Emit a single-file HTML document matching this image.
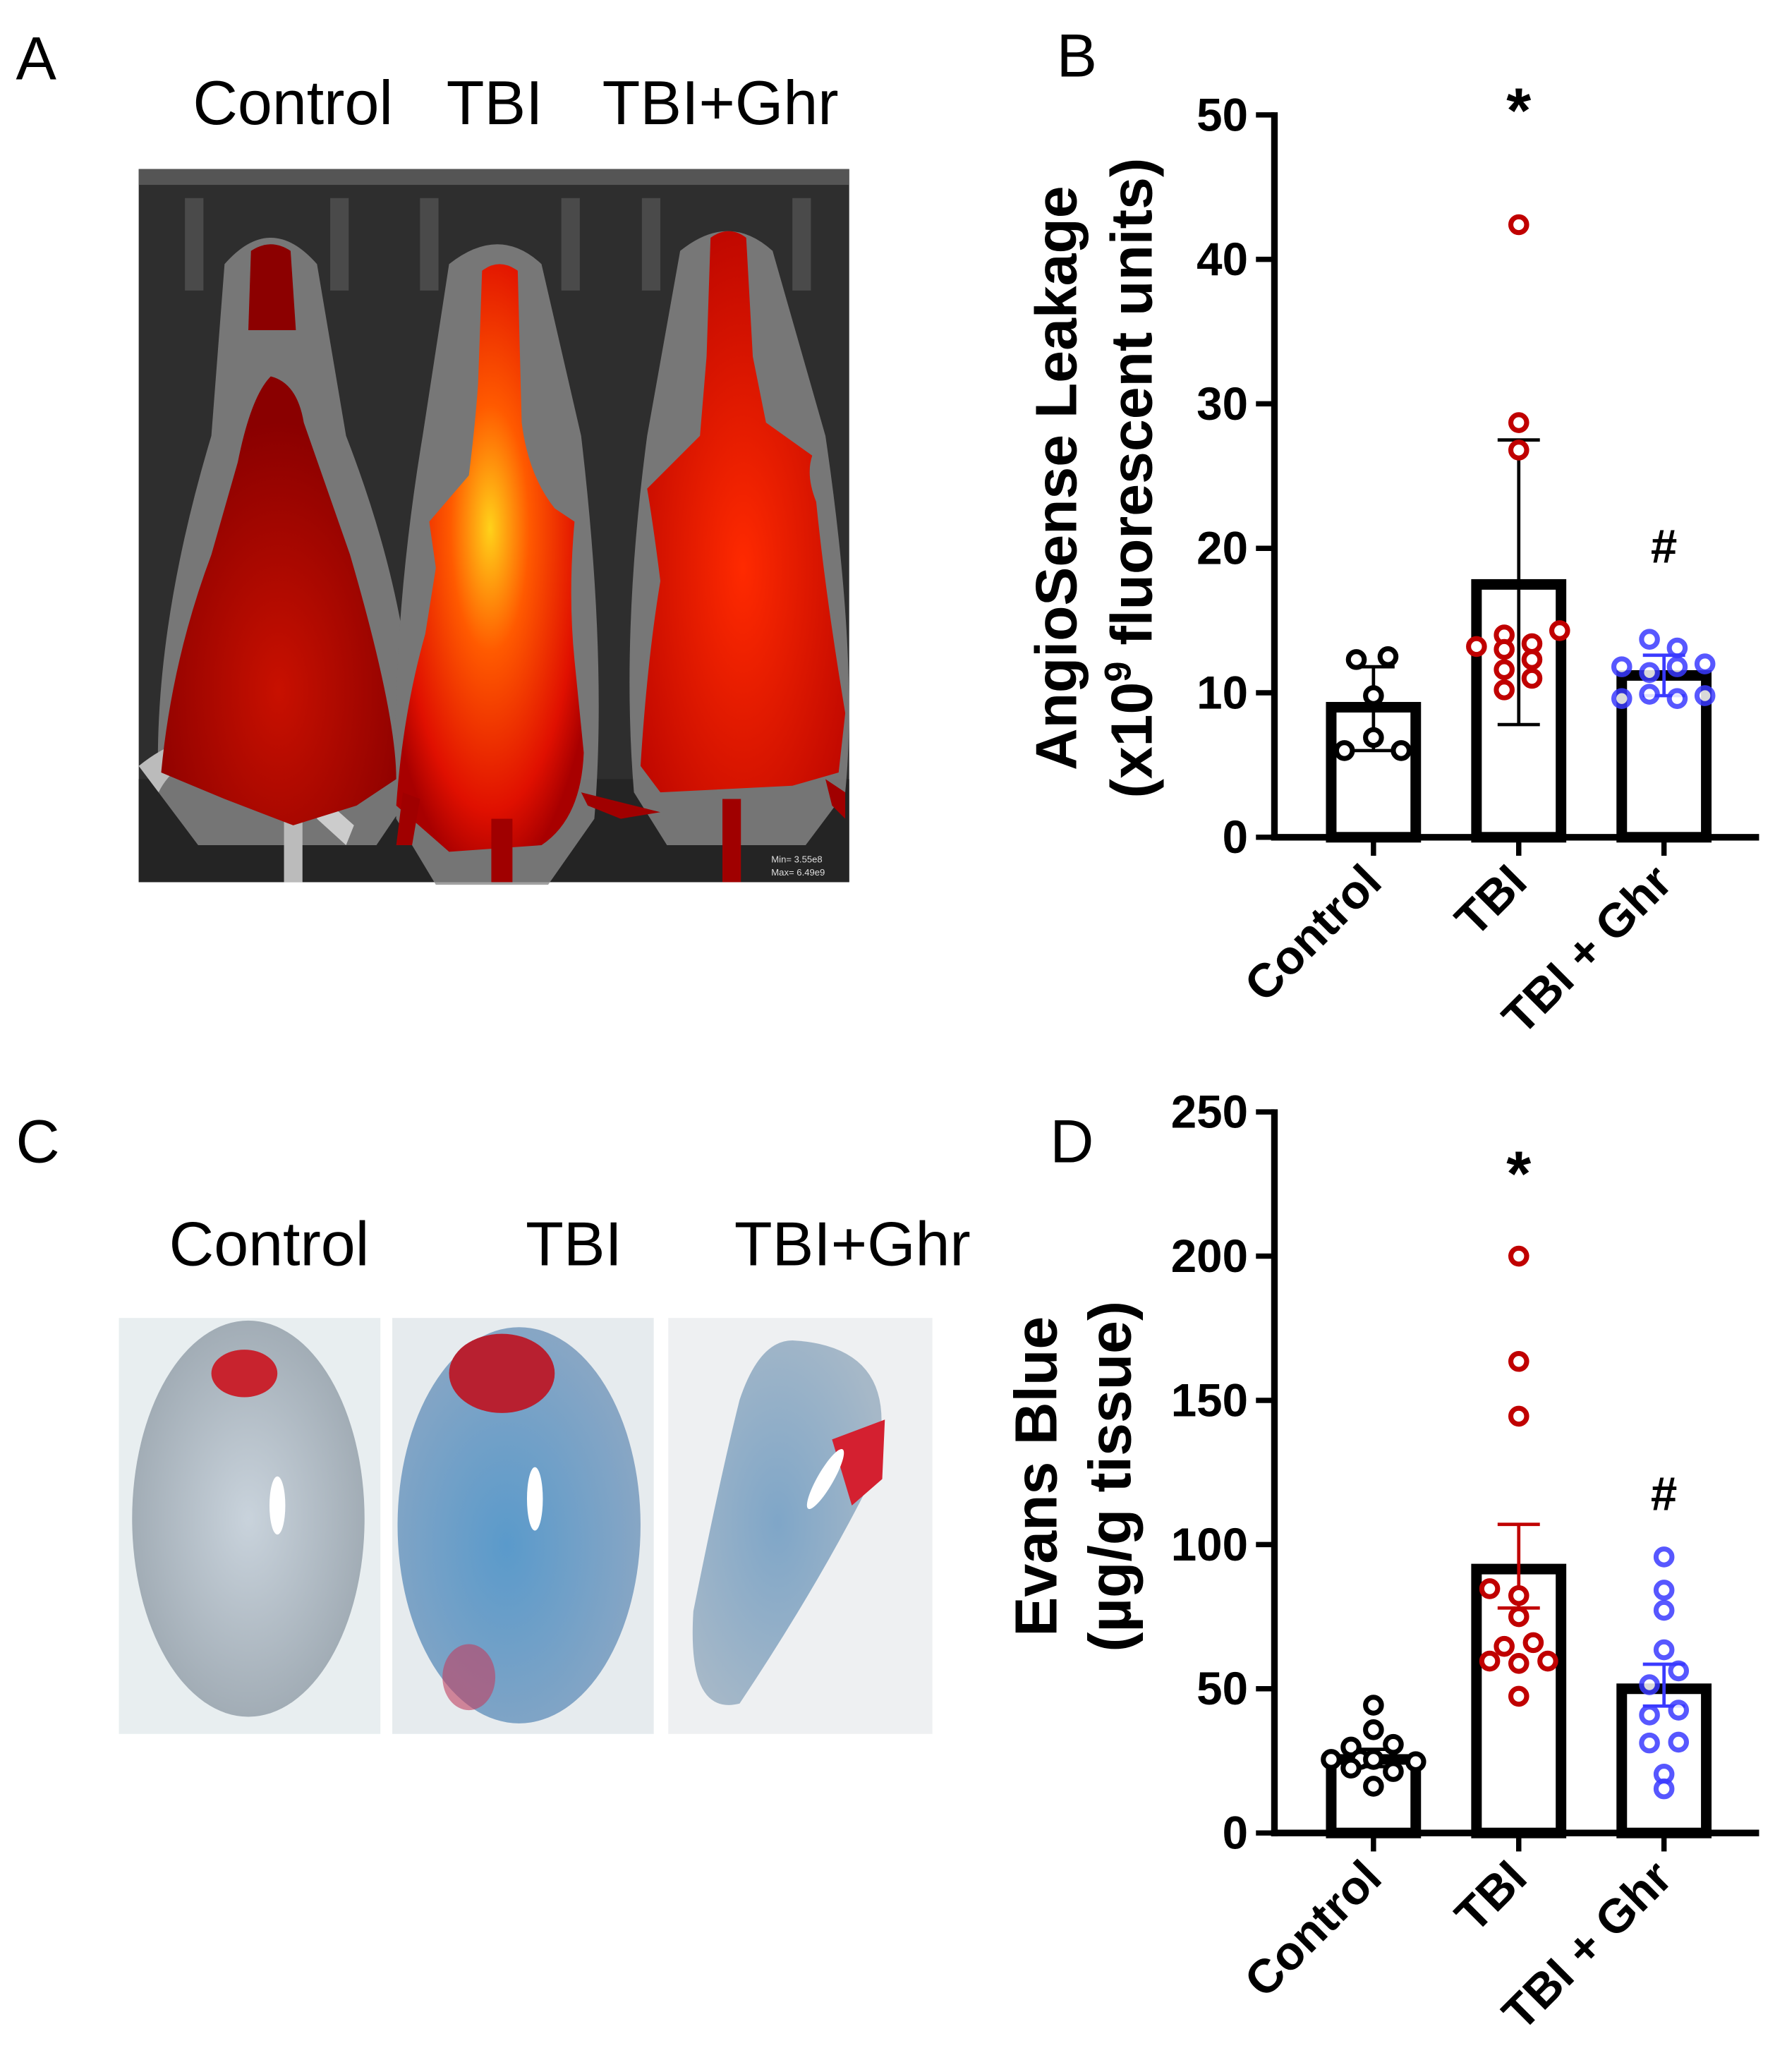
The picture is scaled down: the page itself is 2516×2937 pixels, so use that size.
<!DOCTYPE html>
<html><head><meta charset="utf-8"><style>
html,body{margin:0;padding:0;background:#fff;}
svg{display:block;}
text{font-family:"Liberation Sans",Arial,sans-serif;}
</style></head><body>
<svg id="fig" width="2516" height="2937" viewBox="0 0 1344 1569" xmlns="http://www.w3.org/2000/svg">
<defs>
<radialGradient id="g2" cx="0.5" cy="0.45" r="0.6"><stop offset="0" stop-color="#ffd21a"/><stop offset="0.35" stop-color="#ff5a00"/><stop offset="0.8" stop-color="#e01000"/><stop offset="1" stop-color="#a80000"/></radialGradient>
<radialGradient id="g3" cx="0.5" cy="0.6" r="0.6"><stop offset="0" stop-color="#ff2a00"/><stop offset="1" stop-color="#c00800"/></radialGradient>
<radialGradient id="g1" cx="0.5" cy="0.7" r="0.6"><stop offset="0" stop-color="#c81000"/><stop offset="1" stop-color="#8a0000"/></radialGradient>
<radialGradient id="k1" cx="0.5" cy="0.5" r="0.6"><stop offset="0" stop-color="#c9d3dc"/><stop offset="1" stop-color="#9aa5ae"/></radialGradient>
<radialGradient id="k2" cx="0.45" cy="0.55" r="0.6"><stop offset="0" stop-color="#5a9acb"/><stop offset="1" stop-color="#8ba7c4"/></radialGradient>
<radialGradient id="k3" cx="0.45" cy="0.5" r="0.6"><stop offset="0" stop-color="#7fa6c8"/><stop offset="1" stop-color="#a6b8c8"/></radialGradient>
</defs>

<text x="12" y="60" font-size="46">A</text>
<text x="146" y="94" font-size="47">Control</text>
<text x="338" y="94" font-size="47">TBI</text>
<text x="456" y="94" font-size="47">TBI+Ghr</text>
<g>
<rect x="105" y="128" width="538" height="540" fill="#2e2e2e"/>
<rect x="105" y="128" width="538" height="12" fill="#555"/>
<rect x="105" y="590" width="538" height="78" fill="#242424"/>
<g fill="#4a4a4a"><rect x="140" y="150" width="14" height="70"/><rect x="250" y="150" width="14" height="70"/><rect x="318" y="150" width="14" height="70"/><rect x="425" y="150" width="14" height="70"/><rect x="486" y="150" width="14" height="70"/><rect x="600" y="150" width="14" height="70"/></g>
<g fill="#8a8a8a" opacity="0.8">
<path d="M170,200 Q205,160 240,200 L262,330 Q320,480 312,600 L285,640 L150,640 L120,600 Q115,480 160,330 Z"/>
<path d="M340,200 Q378,170 410,200 L440,330 Q460,500 450,620 L415,670 L330,670 L300,620 Q295,480 320,330 Z"/>
<path d="M515,190 Q552,160 585,190 L625,330 Q650,500 640,600 L610,640 L505,640 L480,600 Q470,480 490,330 Z"/>
</g>
<path d="M105,580 Q130,560 150,560 L150,575 Q130,580 120,600 Z" fill="#bbb"/>
<rect x="215" y="600" width="14" height="68" fill="#bbb"/>
<path d="M240,600 L268,625 L262,640 L240,620 Z" fill="#ccc"/>
<path d="M190,190 Q205,180 220,190 L224,250 L188,250 Z" fill="#8c0000"/>
<path d="M205,285 Q225,290 230,320 L265,420 Q300,540 300,590 L270,610 L222,625 L170,605 L122,585 Q130,500 160,420 L180,350 Q190,300 205,285 Z" fill="url(#g1)"/>
<path d="M365,205 Q378,195 392,205 L395,320 Q400,360 420,385 L435,395 Q430,450 435,500 L442,570 Q440,620 410,640 L340,645 L300,610 Q305,540 322,480 L330,430 L325,395 L355,360 Q360,320 362,290 Z" fill="url(#g2)"/>
<path d="M538,180 Q552,170 565,180 L570,270 L580,320 L615,345 Q610,360 618,380 Q625,450 640,540 L635,585 L600,595 L500,600 L485,580 Q490,500 500,440 Q495,400 490,370 L530,330 L535,270 Z" fill="url(#g3)"/>
<g fill="#a00000"><rect x="372" y="620" width="16" height="48"/><rect x="547" y="605" width="14" height="63"/><path d="M305,600 L318,605 L312,640 L300,640 Z"/><path d="M440,600 L500,615 L470,620 L445,610 Z"/><path d="M625,590 L640,600 L640,620 L630,610 Z"/></g>
<text x="584" y="653" font-size="7" fill="#ddd">Min= 3.55e8</text>
<text x="584" y="663" font-size="7" fill="#ddd">Max= 6.49e9</text>
</g>

<text x="12" y="880" font-size="46">C</text>
<text x="128" y="958" font-size="47">Control</text>
<text x="398" y="958" font-size="47">TBI</text>
<text x="556" y="958" font-size="47">TBI+Ghr</text>
<g>
<rect x="90" y="998" width="198" height="315" fill="#e8eef0"/>
<rect x="297" y="998" width="198" height="315" fill="#e6ebee"/>
<rect x="506" y="998" width="200" height="315" fill="#eef0f2"/>
<ellipse cx="188" cy="1150" rx="88" ry="150" fill="url(#k1)"/>
<ellipse cx="185" cy="1040" rx="25" ry="18" fill="#c8232e"/>
<ellipse cx="393" cy="1155" rx="92" ry="150" fill="url(#k2)"/>
<ellipse cx="380" cy="1040" rx="40" ry="30" fill="#b82030"/>
<ellipse cx="355" cy="1270" rx="20" ry="25" fill="#c04060" opacity="0.6"/>
<path d="M600,1015 Q690,1020 660,1120 Q620,1200 560,1290 Q520,1300 525,1220 Q545,1120 560,1060 Q575,1015 600,1015 Z" fill="url(#k3)"/>
<path d="M630,1090 L670,1075 L668,1120 L645,1140 Z" fill="#d42030"/>
<ellipse cx="210" cy="1140" rx="6" ry="22" fill="#fff"/>
<ellipse cx="405" cy="1135" rx="6" ry="24" fill="#fff"/>
<ellipse cx="625" cy="1120" rx="6" ry="26" fill="#fff" transform="rotate(30 625 1120)"/>
</g>

<text x="800" y="58" font-size="46">B</text>
<text x="795" y="880" font-size="46">D</text>
<g id="chartB"></g>
<g id="chartD"></g>
</svg>
<script>
const categories = ["Control", "TBI", "TBI + Ghr"];
const colors = ["#000000", "#c00000", "#3a3aff"];
// Chart B
const bTicks = [0, 10, 20, 30, 40, 50];
const bMeans = [9.0, 17.5, 11.2];
const bErrLow = [6.0, 7.8, 9.8];
const bErrHigh = [11.8, 27.5, 12.6];
const bPtsControl = [12.3, 12.5, 9.8, 6.9, 6.0, 6.0];
const bPtsTBI = [42.4, 28.7, 26.8, 13.2, 14.0, 13.0, 13.4, 12.3, 11.6, 11.0, 10.2, 14.3];
const bPtsGhr = [13.7, 13.1, 11.8, 11.4, 11.8, 12.0, 9.6, 9.9, 9.6, 9.8];
const bOffControl = [-13, 11, 0, 0, -22, 21];
const bOffTBI = [0, 0, 0, -32, -11, -11, 10, 10, -11, 10, -11, 31];
const bOffGhr = [-11, 10, -32, -11, 10, 31, -32, -11, 10, 31];
const bSigVal = [null, 51, 19];
// Chart D
const dTicks = [0, 50, 100, 150, 200, 250];
const dMeans = [25.5, 91.5, 50];
const dErrLow = [23, 78, 44];
const dErrHigh = [29, 107, 58.5];
const dPtsControl = [44.3, 35.8, 29.8, 30.7, 25.5, 25.5, 24.7, 22.5, 21.3, 16.2, 25.5];
const dPtsTBI = [200, 163.5, 144.5, 84.7, 82.3, 75, 64.7, 66, 59.6, 58.8, 59.6, 47.4];
const dPtsGhr = [95.7, 84.2, 77.2, 63.5, 51.4, 56.2, 40.9, 42.6, 31.2, 31.5, 20.4, 15.3];
const dOffControl = [0, 0, -17, 15, -32, -10, 32, -17, 15, 0, 0];
const dOffTBI = [0, 0, 0, -22, 0, 0, -11, 11, -22, 0, 22, 0];
const dOffGhr = [0, 0, 0, 0, -11, 11, -11, 11, -11, 11, 0, 0];
const dSigVal = [null, 232, 112];

const NS = "http://www.w3.org/2000/svg";
function mk(parent, tag, attrs, txt){const e=document.createElementNS(NS,tag);for(const k in attrs)e.setAttribute(k,attrs[k]);if(txt!==undefined)e.textContent=txt;parent.appendChild(e);return e;}

function drawChart(g, cfg){
  const x0=965, x1=1332, yb=cfg.y0, yt=cfg.yTop, max=cfg.ticks[cfg.ticks.length-1];
  const y=v=>yb-(v/max)*(yb-yt);
  const xc=i=>1040+i*110;
  const yAxis=mk(g,"line",{x1:x0,y1:yt-2,x2:x0,y2:yb+2.5,stroke:"#000","stroke-width":5});
  
  
  const xAxis=mk(g,"line",{x1:x0-2.5,y1:yb,x2:x1,y2:yb,stroke:"#000","stroke-width":5});
  
  
  cfg.ticks.forEach(t=>{
    const tk=mk(g,"line",{x1:x0-14,y1:y(t),x2:x0,y2:y(t),stroke:"#000","stroke-width":4});
    
    
    const tl=mk(g,"text",{x:x0-20,y:y(t)+12,"font-size":35,"font-weight":"bold","text-anchor":"end"},t);
    
    
  });
  categories.forEach((c,i)=>{
    const bw=64, top=y(cfg.means[i]);
    const bar=mk(g,"rect",{x:xc(i)-bw/2,y:top,width:bw,height:yb-top,fill:"#fff",stroke:"#000","stroke-width":8});
    
    
    const tk=mk(g,"line",{x1:xc(i),y1:yb,x2:xc(i),y2:yb+14,stroke:"#000","stroke-width":4});
    
    
    const lab=mk(g,"text",{x:0,y:0,"font-size":36,"font-weight":"bold","text-anchor":"end",transform:`translate(${xc(i)+8},${yb+36}) rotate(-45)`},c);
    
    
    const ec=cfg.errColor[i];
    const eb=mk(g,"path",{d:`M${xc(i)},${y(cfg.lo[i])}V${y(cfg.hi[i])}M${xc(i)-16},${y(cfg.hi[i])}H${xc(i)+16}M${xc(i)-16},${y(cfg.lo[i])}H${xc(i)+16}`,stroke:ec,"stroke-width":2.5,fill:"none"});
    
    
    cfg.pts[i].forEach((v,j)=>{
      const p=mk(g,"circle",{cx:xc(i)+cfg.offs[i][j],cy:y(v),r:6,fill:"#fff",stroke:colors[i],"stroke-width":3.8,opacity:i==2?0.85:1});
      
      
    });
    if(cfg.sig[i]!==null){
      const s=mk(g,"text",{x:xc(i),y:y(cfg.sig[i])+(i==1?24:0),"font-size":i==1?48:36,"font-weight":"bold","text-anchor":"middle"},i==1?"*":"#");
      
      
    }
  });
  cfg.title.forEach((t,k)=>{
    const tt=mk(g,"text",{x:0,y:0,"font-size":cfg.tfs,"font-weight":"bold","text-anchor":"middle",transform:`translate(${cfg.tx[k]},${cfg.ty}) rotate(-90)`});
    
    
    t.forEach(seg=>{mk(tt,"tspan",seg.sup?{"font-size":28,dy:-16}:(seg.after?{dy:16}:{}),seg.s);});
  });
}
drawChart(document.getElementById("chartB"),{y0:634,yTop:87,ticks:bTicks,means:bMeans,lo:bErrLow,hi:bErrHigh,
  pts:[bPtsControl,bPtsTBI,bPtsGhr],offs:[bOffControl,bOffTBI,bOffGhr],sig:bSigVal,errColor:["#000","#000","#3a3aff"],
  title:[[{s:"AngioSense Leakage"}],[{s:"(x10"},{s:"9",sup:true},{s:" fluorescent units)",after:true}]],tx:[815,872],ty:362,tfs:44});
drawChart(document.getElementById("chartD"),{y0:1388,yTop:842,ticks:dTicks,means:dMeans,lo:dErrLow,hi:dErrHigh,
  pts:[dPtsControl,dPtsTBI,dPtsGhr],offs:[dOffControl,dOffTBI,dOffGhr],sig:dSigVal,errColor:["#000","#c00000","#3a3aff"],
  title:[[{s:"Evans Blue"}],[{s:"(µg/g tissue)"}]],tx:[800,856],ty:1118,tfs:45});
</script>
</body></html>
